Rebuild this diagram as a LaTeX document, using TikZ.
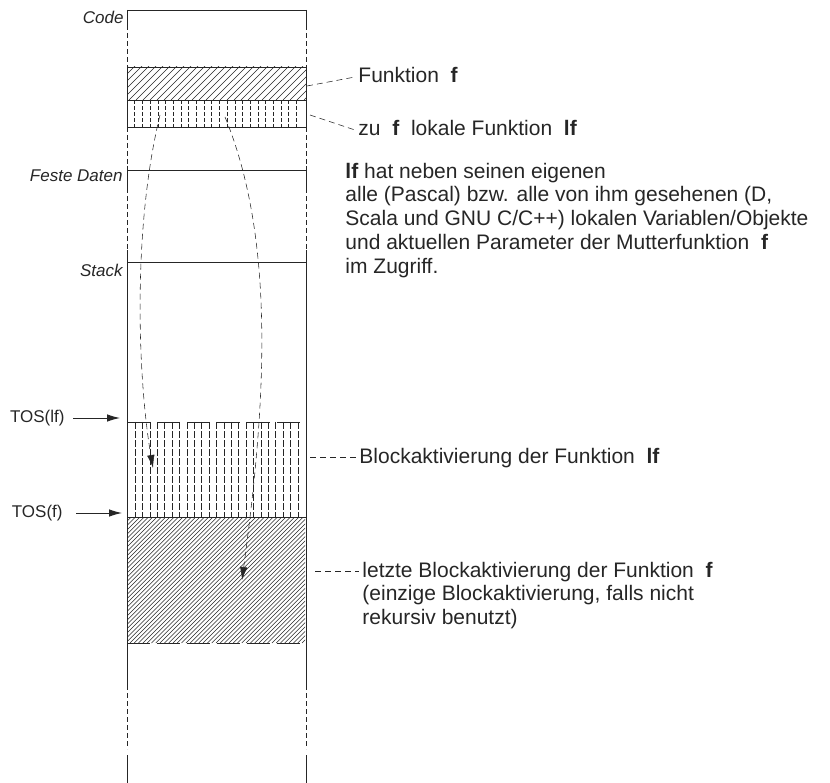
\documentclass[tikz,border=0pt]{standalone}
\usepackage{fontspec}
\setmainfont{Liberation Sans}
\usetikzlibrary{arrows.meta,calc}

\begin{document}
\begin{tikzpicture}[x=1pt,y=-1pt,>={Latex[length=13pt,width=7.5pt]},line width=0.9pt,color=black!85,
		lbl/.style={font=\fontsize{17}{20}\selectfont\itshape,inner sep=0pt,anchor=base east},
		tos/.style={font=\fontsize{17}{20}\selectfont,inner sep=0pt,anchor=east},
		txt/.style={font=\fontsize{21}{23.7}\selectfont,inner sep=0pt,align=left,text=black!85},
		leader/.style={dash pattern=on 6pt off 4pt,line width=0.55pt},
		gap/.style={dash pattern=on 5pt off 3pt},
		hatch/.style={line width=0.55pt},
		cut/.style={dash pattern=on 23pt off 7pt}]
			\useasboundingbox (0,0) rectangle (830,783);
			% Speicherspalte
			\draw (127,10)--(306,10);
			\draw (127,170)--(306,170);
			\draw (127,262)--(306,262);
			\foreach \x in {127,306}{
				\draw (\x,10)--(\x,25);
				\draw[gap] (\x,25)--(\x,67);
				\draw[gap] (\x,127)--(\x,166);
				\draw (\x,166)--(\x,188);
				\draw[gap] (\x,188)--(\x,250);
				\draw (\x,250)--(\x,685);
				\draw[gap] (\x,685)--(\x,749);
				\draw (\x,755)--(\x,783);
			}
			% Code von f und lf
			\begin{scope}
				\clip (127,67) rectangle (306,100);
				\foreach \i in {0,...,32} \draw[hatch] ({94+7*\i},100)--++(40,-40);
			\end{scope}
			\draw (127,67) rectangle (306,100);
			\foreach \i in {1,...,22} \draw[hatch,dash pattern=on 4pt off 2pt] ({127+7.7*\i},100)--++(0,27);
			\draw (127,100) rectangle (306,127);
			% Blockaktivierung lf
			\foreach \i in {0,...,22} \draw[hatch,dash pattern=on 7pt off 2pt] ({135+7.4*\i},422)--++(0,95);
			\draw[cut] (127,422)--(300,422);
			% Blockaktivierung f
			\begin{scope}
				\clip (127,517) rectangle (305,643);
				\foreach \i in {0,...,72} \draw[hatch] ({1+4.3*\i},643)--++(130,-130);
			\end{scope}
			\draw (127,517)--(306,517);
			\draw[cut] (127,643)--(300,643);
			% Beschriftung links
			\node[lbl] (code) at (124,24) {Code};
			\node[lbl] (fest) at (123,182) {Feste Daten};
			\node[lbl] (stack) at (123,277) {Stack};
			\node[tos] (toslf) at (65,418) {TOS(lf)};
			\node[tos] (tosf) at (63,513) {TOS(f)};
			\coordinate (plf) at (120,418);
			\coordinate (pf) at (122,513);
			\draw[->] (toslf.east)++(8,0)--(plf);
			\draw[->] (tosf.east)++(13,0)--(pf);
			% Beschriftung rechts
			\node[txt,anchor=base west] (fkt) at (358,83) {Funktion\ \ \textbf{f}};
			\node[txt,anchor=base west] (lok) at (358,136) {zu\ \ \textbf{f}\ \ lokale Funktion\ \ \textbf{lf}};
			\node[txt,anchor=north west] (zugriff) at (345,162.6) {\textbf{lf} hat neben seinen eigenen\\alle (Pascal) bzw. alle von ihm gesehenen (D,\\Scala und GNU C/C++) lokalen Variablen/Objekte\\und aktuellen Parameter der Mutterfunktion\ \ \textbf{f}\\im Zugriff.};
			\node[txt,anchor=base west] (balf) at (359,463) {Blockaktivierung der Funktion\ \ \textbf{lf}};
			\node[txt,anchor=north west] (baf) at (362,561.6) {letzte Blockaktivierung der Funktion\ \ \textbf{f}\\(einzige Blockaktivierung, falls nicht\\rekursiv benutzt)};
			\coordinate (afkt) at (307,86);
			\coordinate (alok) at (310,115);
			\coordinate (abalf) at (310,457);
			\coordinate (abaf) at (315,571);
			\draw[leader] (afkt)--($(fkt.base west)+(-3,-6)$);
			\draw[leader] (alok)--($(lok.base west)+(-3,-6)$);
			\draw[leader] (abalf)--($(balf.base west)+(-3,-6)$);
			\draw[leader] (abaf)--($(baf.north west)+(-3,9.4)$);
			% Zugriffe von lf
			\coordinate (s1) at (160,115);
			\coordinate (e1) at (153,468);
			\coordinate (s2) at (225,117);
			\coordinate (e2) at (242,580);
			\draw[leader,->] (s1) .. controls (132,230) and (138,380) .. (e1);
			\draw[leader,->] (s2) .. controls (280,250) and (262,430) .. (e2);
\end{tikzpicture}
\end{document}
